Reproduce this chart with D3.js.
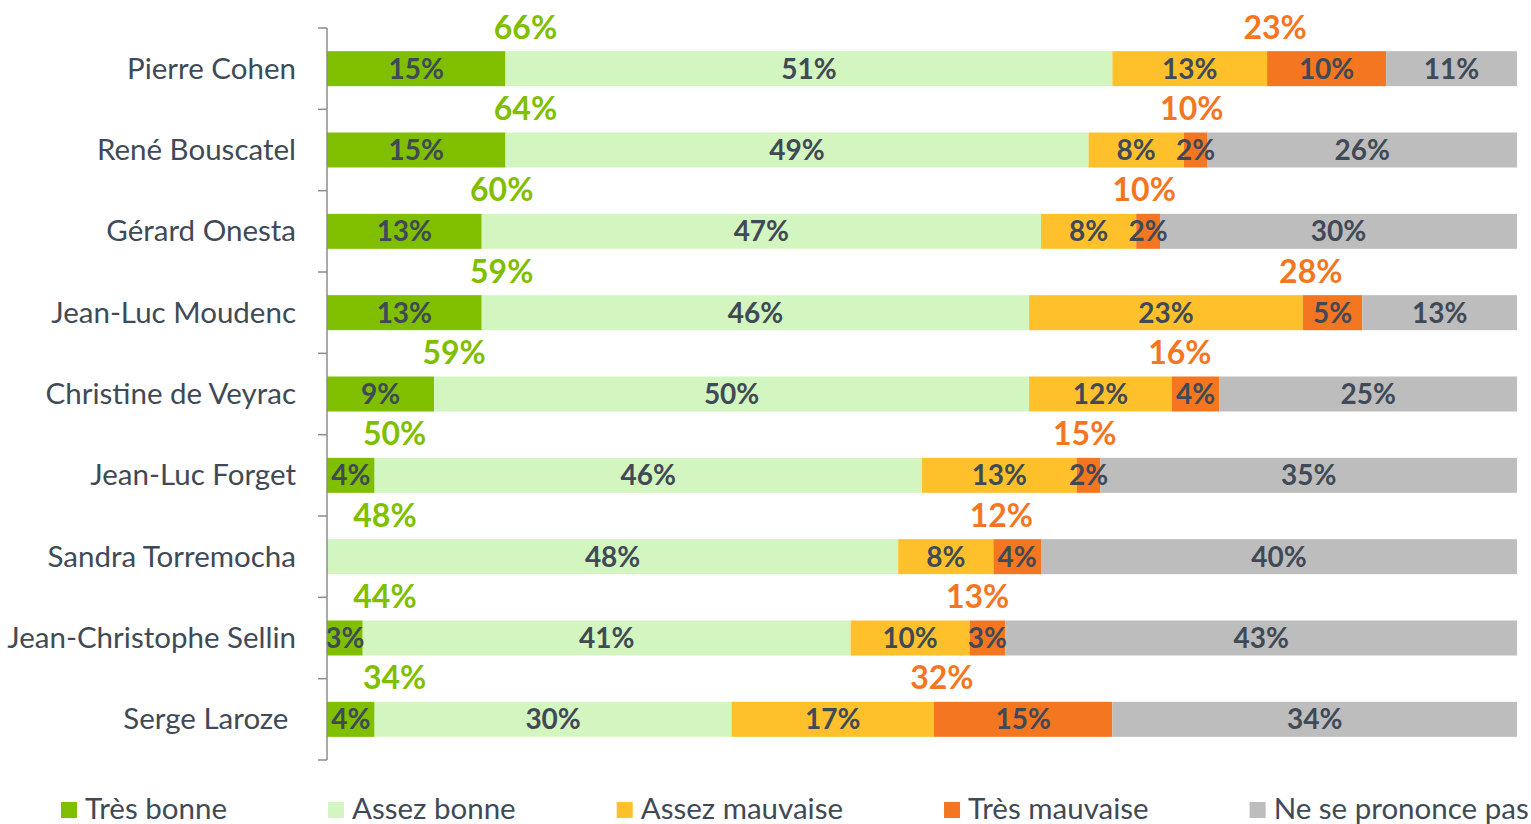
<!DOCTYPE html>
<html>
<head>
<meta charset="utf-8">
<script src="https://cdn.jsdelivr.net/npm/d3@7"></script>
<style>
  html, body { margin: 0; padding: 0; background: #fff; }
  svg { display: block; font-family: Lato, "Open Sans", sans-serif; }
</style>
</head>
<body>
<script>
// candidates, top to bottom
const candidates = ["Pierre Cohen", "René Bouscatel", "Gérard Onesta", "Jean-Luc Moudenc",
  "Christine de Veyrac", "Jean-Luc Forget", "Sandra Torremocha", "Jean-Christophe Sellin", "Serge Laroze "];

const series = ["Très bonne", "Assez bonne", "Assez mauvaise", "Très mauvaise", "Ne se prononce pas"];
const colors = ["#7fbf00", "#d3f5c0", "#ffc12b", "#f47621", "#bdbdbd"];

// percentages per series, same order as candidates
const tresBonne    = [15, 15, 13, 13,  9,  4,  0,  3,  4];
const assezBonne   = [51, 49, 47, 46, 50, 46, 48, 41, 30];
const assezMauv    = [13,  8,  8, 23, 12, 13,  8, 10, 17];
const tresMauv     = [10,  2,  2,  5,  4,  2,  4,  3, 15];
const nsp          = [11, 26, 30, 13, 25, 35, 40, 43, 34];

// totals shown above the bars
const totalBonne    = [66, 64, 60, 59, 59, 50, 48, 44, 34];
const totalMauvaise = [23, 10, 10, 28, 16, 15, 12, 13, 32];

const values = [tresBonne, assezBonne, assezMauv, tresMauv, nsp];

const width = 1531, height = 824;
const textCol = "#404a56";

const svg = d3.select("body").append("svg")
  .attr("width", width)
  .attr("height", height);

const x = d3.scaleLinear().domain([0, 100]).range([327, 1517]);
const y = d3.scaleBand().domain(candidates).range([28, 760]).padding(0);
const barH = 35;

const rows = candidates.map((name, i) => {
  let acc = 0;
  const segs = values.map((arr, s) => {
    const seg = { name, s, v: arr[i], x0: acc, x1: acc + arr[i] };
    acc += arr[i];
    return seg;
  });
  return { name, i, segs };
});

// bars
const g = svg.append("g");
const rowG = g.selectAll("g.row").data(rows).enter().append("g")
  .attr("class", "row")
  .attr("transform", d => `translate(0,${y(d.name) + y.bandwidth() / 2})`);

rowG.selectAll("rect").data(d => d.segs.filter(s => s.v > 0)).enter().append("rect")
  .attr("x", d => x(d.x0))
  .attr("y", -barH / 2)
  .attr("width", d => x(d.x1) - x(d.x0))
  .attr("height", barH)
  .attr("fill", d => colors[d.s]);

rowG.selectAll("text.val").data(d => d.segs.filter(s => s.v > 0)).enter().append("text")
  .attr("class", "val")
  .attr("x", d => (x(d.x0) + x(d.x1)) / 2)
  .attr("y", 10)
  .attr("text-anchor", "middle")
  .attr("font-size", 28)
  .attr("font-weight", "bold")
  .attr("fill", textCol)
  .text(d => d.v + "%");

// totals above bars
rowG.append("text")
  .attr("x", d => Math.max(x(tresBonne[d.i]), 365) + 20)
  .attr("y", -30)
  .attr("text-anchor", "middle")
  .attr("font-size", 32)
  .attr("font-weight", "bold")
  .attr("fill", "#7fbf00")
  .text(d => totalBonne[d.i] + "%");

rowG.append("text")
  .attr("x", d => x(tresBonne[d.i] + assezBonne[d.i] + assezMauv[d.i]) + 8)
  .attr("y", -30)
  .attr("text-anchor", "middle")
  .attr("font-size", 32)
  .attr("font-weight", "bold")
  .attr("fill", "#f47621")
  .text(d => totalMauvaise[d.i] + "%");

// axis
const axisCol = "#8c8c8c";
svg.append("line")
  .attr("x1", x(0)).attr("x2", x(0))
  .attr("y1", y.range()[0]).attr("y2", y.range()[1])
  .attr("stroke", axisCol).attr("stroke-width", 1.5);

const bounds = candidates.map(c => y(c)).concat([y.range()[1]]);
svg.selectAll("line.tick").data(bounds).enter().append("line")
  .attr("class", "tick")
  .attr("x1", x(0) - 9).attr("x2", x(0))
  .attr("y1", d => d).attr("y2", d => d)
  .attr("stroke", axisCol).attr("stroke-width", 1.5);

svg.selectAll("text.cat").data(candidates).enter().append("text")
  .attr("class", "cat")
  .attr("x", 296)
  .attr("y", d => y(d) + y.bandwidth() / 2 + 10)
  .attr("text-anchor", "end")
  .attr("font-size", 29.5)
  .attr("fill", textCol)
  .style("white-space", "pre")
  .text(d => d);

// legend
const leg = svg.append("g");
let lx = 61;
series.forEach((s, i) => {
  leg.append("rect")
    .attr("x", lx).attr("y", 802)
    .attr("width", 16).attr("height", 16)
    .attr("fill", colors[i]);
  const t = leg.append("text")
    .attr("x", lx + 24).attr("y", 819)
    .attr("font-size", 29.5)
    .attr("fill", textCol)
    .text(s);
  lx += 24 + t.node().getComputedTextLength() + 101;
});
</script>
</body>
</html>
